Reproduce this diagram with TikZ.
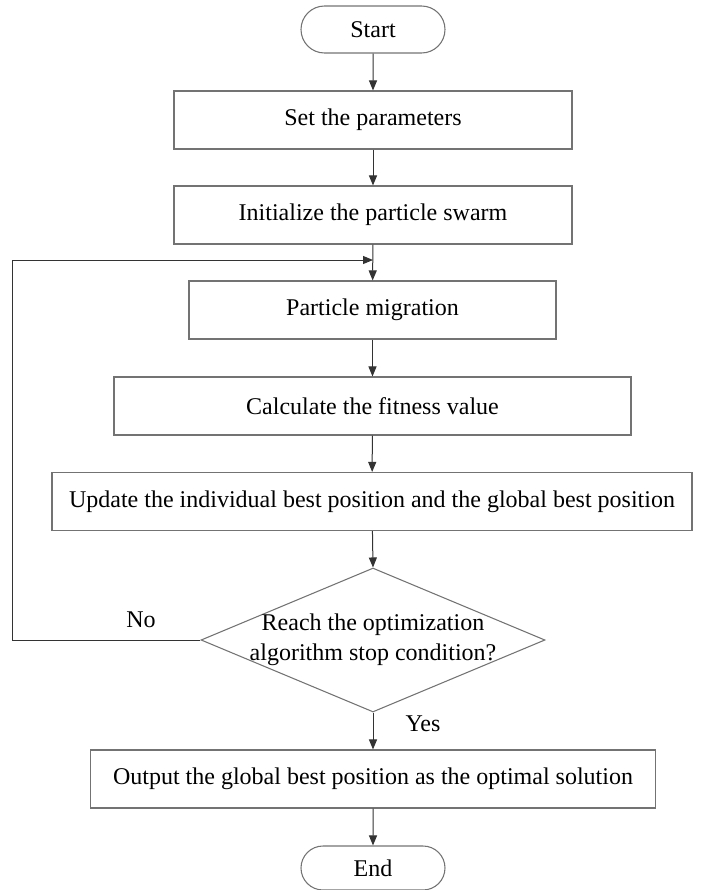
\documentclass[tikz,border=0pt]{standalone}
\usepackage{fontspec}
\setmainfont{Liberation Serif}
\usetikzlibrary{arrows.meta,shapes.geometric,shapes.misc}
\begin{document}
\begin{tikzpicture}[x=0.75pt,y=-0.75pt,
  every node/.style={font=\fontsize{18}{22.5}\selectfont, text=black},
  box/.style={draw=black!55, line width=0.8pt, rectangle, minimum height=43.5pt, inner sep=0pt},
  term/.style={draw=black!55, line width=0.8pt, rounded rectangle, minimum width=108pt, inner sep=0pt},
  decis/.style={draw=black!55, line width=0.8pt, diamond, minimum width=258pt, minimum height=108pt, inner sep=0pt},
  conn/.style={draw=black!80, line width=0.75pt, -{Triangle[length=7.5pt,width=6pt]}},
]
\useasboundingbox (0,0) rectangle (703,890);
\node[term, minimum height=35.25pt] (start) at (373,29.5) {Start};
\node[box, minimum width=298.5pt] (set) at (373,120) {Set the parameters};
\node[box, minimum width=298.5pt] (init) at (373,215) {Initialize the particle swarm};
\node[box, minimum width=275.25pt] (pm) at (372.5,310) {Particle migration};
\node[box, minimum width=387.75pt] (calc) at (372.5,406) {Calculate the fitness value};
\node[box, minimum width=480pt] (upd) at (372,501.5) {Update the individual best position and the global best position};
\node[decis] (dec) at (373,640) {};
\node[align=center, inner sep=0pt] (dectext) at (373,640) {Reach the optimization\\algorithm stop condition?};
\node[box, minimum width=424pt] (out) at (373,779) {Output the global best position as the optimal solution};
\node[term, minimum height=33pt] (end) at (373,868) {End};
\node[inner sep=0pt] (no) at (141,620) {No};
\node[inner sep=0pt] (yes) at (423,724) {Yes};
\coordinate (c1) at (12,640);
\coordinate (c2) at (12,260);
\coordinate (c3) at (373,260);
\draw[conn] (start) -- (set);
\draw[conn] (set) -- (init);
\draw[conn] (init) -- (pm);
\draw[conn] (pm) -- (calc);
\draw[conn] (calc) -- (upd);
\draw[conn] (upd) -- (dec.north);
\draw[conn] (dec.south) -- (out);
\draw[conn] (out) -- (end);
\draw[conn] (dec.west) -- (c1) -- (c2) -- (c3);
\end{tikzpicture}
\end{document}
